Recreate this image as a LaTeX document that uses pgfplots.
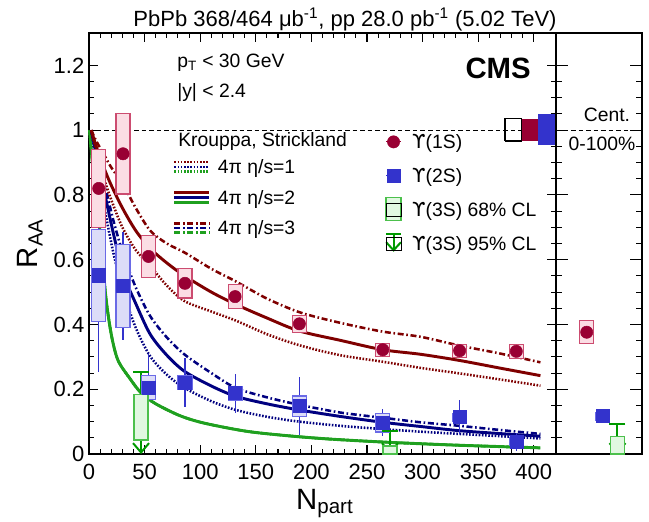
\documentclass[border=0pt]{standalone}
\usepackage{fontspec}
\setmainfont{Liberation Sans}
\newfontfamily\dejavu{DejaVu Sans}
\usepackage{pgfplots}
\pgfplotsset{compat=1.18}
\usepackage{pgfplotstable}
\usetikzlibrary{arrows.meta}

% model curves
\definecolor{thOne}{HTML}{7F0000}
\definecolor{thTwo}{HTML}{000080}
\definecolor{thThree}{HTML}{1FA01F}
% measurements
\definecolor{dOne}{HTML}{990033}
\definecolor{dOneEdge}{HTML}{CC4C70}
\definecolor{dOneFill}{HTML}{FBDDE4}
\definecolor{dTwo}{HTML}{3333CC}
\definecolor{dTwoEdge}{HTML}{6A6AE6}
\definecolor{dTwoFill}{HTML}{DCDCF8}
\definecolor{dThree}{HTML}{009900}
\definecolor{dThreeEdge}{HTML}{4CC04C}
\definecolor{dThreeFill}{HTML}{E2F8E2}

\newlength\px
\setlength\px{0.75pt}
\newcommand\Ups{{\dejavu ϒ}}
\newcommand\fsTick{\fontsize{16.5}{19}\selectfont}
\newcommand\fsLab{\fontsize{22}{26}\selectfont}
\newcommand\fsLeg{\fontsize{14.5}{17}\selectfont}

\tikzset{
  eta1/.style={line width=1.9pt, dash pattern=on 1.2pt off 1.2pt},
  eta2/.style={line width=2.2pt},
  eta3/.style={line width=1.9pt, dash pattern=on 4.5pt off 2pt on 1.2pt off 2pt},
}

% systematic-uncertainty box as a plot mark; \sysh is its half height in pt
\newcommand\boxhw{5.25pt}
\pgfdeclareplotmark{sysbox}{%
  \pgfpathrectangle{\pgfpoint{-\boxhw}{-\sysh pt}}{\pgfpoint{2*\boxhw}{2*\sysh pt}}%
  \pgfusepathqfillstroke}

% ---- data: Npart, value, stat, syst ----
\pgfplotstableread{
x     y     stat  sys
8.75  0.82  0.07  0.12
30.6  0.927 0.088 0.124
53.5  0.61  0.047 0.065
86.3  0.527 0.035 0.045
131.4 0.486 0.030 0.037
189.2 0.402 0.022 0.026
264.2 0.322 0.017 0.020
333.3 0.319 0.017 0.020
384.3 0.317 0.017 0.022
}\upsOne
\pgfplotstableread{
x     y     stat  sys
8.75  0.552 0.300 0.142
30.6  0.519 0.168 0.129
53.5  0.205 0.104 0.037
86.3  0.221 0.075 0.022
131.4 0.188 0.060 0.021
189.2 0.148 0.090 0.031
264.2 0.097 0.041 0.029
333.3 0.114 0.052 0.012
384.3 0.038 0.028 0.012
}\upsTwo
% Upsilon(3S): 68% CL band (centre, half width) and 95% CL upper limit
\pgfplotstableread{
x     yc     sys    lim    v
46.8  0.113  0.070  0.252  -0.252
270.7 0.0125 0.0125 0.072  -0.072
}\upsThree
% centrality-integrated
\pgfplotstableread{
x     y     stat  sys
0.357 0.376 0.008 0.035
}\intOne
\pgfplotstableread{
x     y     stat  sys
0.541 0.117 0.006 0.012
}\intTwo
\pgfplotstableread{
x     yc     sys    lim    v
0.715 0.0265 0.0265 0.094  -0.094
}\intThree

% ---- Krouppa, Strickland ----
\pgfplotstableread{
x y
2 1.0
6 0.94
10 0.89
15 0.835
20 0.785
30 0.70
42 0.63
55 0.581
70 0.52
86 0.472
110 0.44
132 0.412
160 0.37
190 0.335
226 0.305
264 0.285
298 0.266
333 0.249
370 0.23
406 0.211
}\thOneA
\pgfplotstableread{
x y
2 1.0
6 0.955
10 0.915
15 0.87
20 0.83
30 0.76
42 0.69
55 0.635
70 0.59
86 0.55
110 0.50
132 0.462
160 0.42
189 0.38
226 0.351
264 0.322
298 0.308
333 0.289
370 0.265
406 0.242
}\thOneB
\pgfplotstableread{
x y
2 1.0
6 0.97
10 0.945
15 0.915
20 0.885
31 0.83
42 0.76
55 0.69
70 0.65
86 0.622
110 0.572
132 0.533
160 0.48
190 0.437
226 0.405
264 0.378
298 0.362
333 0.335
370 0.31
406 0.283
}\thOneC
\pgfplotstableread{
x y
2 1.0
8 0.87
15 0.74
22 0.62
31 0.50
42 0.39
55 0.302
70 0.245
86 0.204
110 0.163
132 0.136
160 0.115
189 0.10
226 0.087
264 0.077
298 0.069
333 0.062
370 0.055
406 0.048
}\thTwoA
\pgfplotstableread{
x y
2 1.0
8 0.90
15 0.79
22 0.68
31 0.555
42 0.465
55 0.37
70 0.305
86 0.255
110 0.21
132 0.178
160 0.155
189 0.136
226 0.116
264 0.098
298 0.085
333 0.072
370 0.063
406 0.055
}\thTwoB
\pgfplotstableread{
x y
2 1.0
8 0.92
15 0.82
22 0.72
31 0.615
42 0.515
55 0.426
70 0.36
86 0.307
110 0.25
132 0.204
160 0.175
189 0.152
226 0.128
264 0.112
298 0.098
333 0.087
370 0.074
406 0.062
}\thTwoC
\pgfplotstableread{
x y
0.5 1.0
3 0.90
6 0.78
10 0.685
15 0.49
20 0.37
26 0.29
37 0.232
47 0.188
60 0.155
82 0.118
104 0.095
142 0.07
180 0.056
217 0.046
270 0.036
333 0.027
406 0.019
}\thThreeAll

\begin{document}
\begin{tikzpicture}
\path[use as bounding box] (0,0) rectangle (649\px,521\px);

\begin{axis}[
  at={(89\px,67\px)}, anchor=south west,
  scale only axis, width=467\px, height=421\px,
  xmin=0, xmax=420, ymin=0, ymax=1.3,
  xtick={0,50,100,150,200,250,300,350,400}, minor x tick num=4,
  ytick={0,0.2,0.4,0.6,0.8,1,1.2}, minor y tick num=3,
  major tick length=7pt, minor tick length=3.75pt,
  axis line style={line width=0.9pt},
  every tick/.append style={black, line width=0.8pt},
  /pgf/number format/assume math mode=true,
  tick label style={font=\fsTick},
  xticklabel style={yshift=-4pt},
  xlabel={N\textsubscript{part}},
  ylabel={R\textsubscript{AA}},
  xlabel style={font=\fsLab, at={(axis description cs:0.505,-0.131)}, anchor=base},
  ylabel style={font=\fsLab, at={(axis description cs:-0.126,0.50)}, anchor=center},
  clip=false,
  legend cell align=left,
  legend style={
    at={(axis description cs:0.1799,0.6986)}, anchor=north west,
    draw=none, fill=none, inner sep=0pt, outer sep=0pt,
    font=\fsLeg, row sep=9.4pt, column sep=5.25pt,
    nodes={inner sep=0pt, text height=10.5pt, text depth=3pt},
  },
]
% reference line at unity
\addplot[forget plot, black, line width=0.75pt, dash pattern=on 3.4pt off 2.25pt] coordinates {(0,1) (420,1)};
% global uncertainties
\addplot[forget plot, draw=black, line width=1pt] coordinates {(374,0.967) (389,0.967) (389,1.036) (374,1.036) (374,0.967)};
\addplot[forget plot, fill=dOne, draw=none] coordinates {(389,0.965) (405,0.965) (405,1.035) (389,1.035)};
\addplot[forget plot, fill=dTwo, draw=none] coordinates {(404,0.953) (420,0.953) (420,1.051) (404,1.051)};

% systematic boxes
\addplot[forget plot, only marks, mark=sysbox, mark options={draw=dOneEdge, fill=dOneFill, line width=0.9pt},
  visualization depends on={\thisrow{sys}*242.885 \as \sysh}] table[x=x,y=y] {\upsOne};
\addplot[forget plot, only marks, mark=sysbox, mark options={draw=dTwoEdge, fill=dTwoFill, line width=0.9pt},
  visualization depends on={\thisrow{sys}*242.885 \as \sysh}] table[x=x,y=y] {\upsTwo};
\addplot[forget plot, only marks, mark=sysbox, mark options={draw=dThreeEdge, fill=dThreeFill, line width=0.9pt},
  visualization depends on={\thisrow{sys}*242.885 \as \sysh}] table[x=x,y=yc] {\upsThree};

% model curves
\addplot[forget plot, thThree, eta1, smooth] table {\thThreeAll};
\addplot[forget plot, thThree, eta3, smooth] table {\thThreeAll};
\addplot[forget plot, thThree, eta2, smooth] table {\thThreeAll};
\addplot[forget plot, thTwo, eta1, smooth] table {\thTwoA};
\addplot[forget plot, thTwo, eta3, smooth] table {\thTwoC};
\addplot[forget plot, thTwo, eta2, smooth] table {\thTwoB};
\addplot[forget plot, thOne, eta1, smooth] table {\thOneA};
\addplot[forget plot, thOne, eta3, smooth] table {\thOneC};
\addplot[forget plot, thOne, eta2, smooth] table {\thOneB};

% measurements
\addplot[forget plot, only marks, mark=square*, mark size=4.9pt, color=dTwo,
  error bars/.cd, y dir=both, y explicit, error mark=none,
  error bar style={line width=0.9pt, dTwo}] table[x=x,y=y,y error=stat] {\upsTwo};
\addplot[forget plot, only marks, mark=*, mark size=4.6pt, color=dOne,
  error bars/.cd, y dir=both, y explicit, error mark=none,
  error bar style={line width=0.9pt, dOne}] table[x=x,y=y,y error=stat] {\upsOne};
\addplot[forget plot, dThree, line width=1.5pt, quiver={u=0, v=\thisrow{v}},
  -{Straight Barb[length=7pt, width=12pt]}] table[x=x,y=lim] {\upsThree};
\addplot[forget plot, only marks, mark=-, mark size=6pt, mark options={dThree, line width=1.5pt}] table[x=x,y=lim] {\upsThree};

% legend of the model curves
\addlegendimage{legend image code/.code={
  \draw[thOne, eta1] (0pt,5pt) -- (26.25pt,5pt);
  \draw[thTwo, eta1] (0pt,1.5pt) -- (26.25pt,1.5pt);
  \draw[thThree, eta1] (0pt,-2pt) -- (26.25pt,-2pt);}}
\addlegendentry{4π η/s=1}
\addlegendimage{legend image code/.code={
  \draw[thOne, eta2] (0pt,5pt) -- (26.25pt,5pt);
  \draw[thTwo, eta2] (0pt,1.5pt) -- (26.25pt,1.5pt);
  \draw[thThree, eta2] (0pt,-2pt) -- (26.25pt,-2pt);}}
\addlegendentry{4π η/s=2}
\addlegendimage{legend image code/.code={
  \draw[thOne, eta3] (0pt,5pt) -- (26.25pt,5pt);
  \draw[thTwo, eta3] (0pt,1.5pt) -- (26.25pt,1.5pt);
  \draw[thThree, eta3] (0pt,-2pt) -- (26.25pt,-2pt);}}
\addlegendentry{4π η/s=3}
\end{axis}

% centrality-integrated panel
\begin{axis}[
  at={(556\px,67\px)}, anchor=south west,
  scale only axis, width=86\px, height=421\px,
  xmin=0, xmax=1, ymin=0, ymax=1.3,
  xtick=\empty,
  ytick={0,0.2,0.4,0.6,0.8,1,1.2}, yticklabels={}, minor y tick num=3,
  major tick length=9pt, minor tick length=4.5pt,
  axis line style={line width=0.9pt},
  every tick/.append style={black, line width=0.8pt},
  clip=false,
  legend cell align=left,
  legend style={
    at={(axis description cs:-1.983,0.758)}, anchor=north west,
    draw=none, fill=none, inner sep=0pt, outer sep=0pt,
    font=\fsLeg, row sep=11.8pt, column sep=7.9pt,
    nodes={inner sep=0pt, text height=10.5pt, text depth=3pt},
  },
]
\addplot[forget plot, black, line width=0.75pt, dash pattern=on 3.4pt off 2.25pt] coordinates {(0,1) (1,1)};
\addplot[forget plot, only marks, mark=sysbox, mark options={draw=dOneEdge, fill=dOneFill, line width=0.9pt},
  visualization depends on={\thisrow{sys}*242.885 \as \sysh}] table[x=x,y=y] {\intOne};
\addplot[forget plot, only marks, mark=sysbox, mark options={draw=dTwoEdge, fill=dTwoFill, line width=0.9pt},
  visualization depends on={\thisrow{sys}*242.885 \as \sysh}] table[x=x,y=y] {\intTwo};
\addplot[forget plot, only marks, mark=sysbox, mark options={draw=dThreeEdge, fill=dThreeFill, line width=0.9pt},
  visualization depends on={\thisrow{sys}*242.885 \as \sysh}] table[x=x,y=yc] {\intThree};
\addplot[forget plot, only marks, mark=*, mark size=4.6pt, color=dOne,
  error bars/.cd, y dir=both, y explicit, error mark=none,
  error bar style={line width=0.9pt, dOne}] table[x=x,y=y,y error=stat] {\intOne};
\addplot[forget plot, only marks, mark=square*, mark size=4.9pt, color=dTwo,
  error bars/.cd, y dir=both, y explicit, error mark=none,
  error bar style={line width=0.9pt, dTwo}] table[x=x,y=y,y error=stat] {\intTwo};
\addplot[forget plot, dThree, line width=1.5pt, quiver={u=0, v=\thisrow{v}},
  -{Straight Barb[length=7pt, width=12pt]}] table[x=x,y=lim] {\intThree};
\addplot[forget plot, only marks, mark=-, mark size=6pt, mark options={dThree, line width=1.5pt}] table[x=x,y=lim] {\intThree};

% legend of the measurements
\addlegendimage{legend image code/.code={
  \draw[dOne, line width=0.9pt] (0pt,1.5pt) -- (11.25pt,1.5pt);
  \fill[dOne] (5.625pt,1.5pt) circle (4.6pt);}}
\addlegendentry{\Ups(1S)}
\addlegendimage{legend image code/.code={
  \draw[dTwo, line width=0.9pt] (0pt,1.5pt) -- (11.25pt,1.5pt);
  \fill[dTwo] (0.9pt,-3.4pt) rectangle (10.35pt,6.4pt);}}
\addlegendentry{\Ups(2S)}
\addlegendimage{legend image code/.code={
  \draw[overlay, draw=dThreeEdge, fill=dThreeFill, line width=0.9pt] (0pt,-7.1pt) rectangle (11.25pt,10.1pt);
  \path (0pt,-4pt) rectangle (11.25pt,6pt);}}
\addlegendentry{\Ups(3S) 68\% CL}
\addlegendimage{legend image code/.code={
  \draw[overlay, dThree, line width=1.5pt] (0pt,8pt) -- (11.25pt,8pt);
  \draw[overlay, dThree, line width=1.5pt, -{Straight Barb[length=6pt, width=11pt]}] (5.625pt,8pt) -- (5.625pt,-5pt);
  \path (0pt,-4pt) rectangle (11.25pt,6pt);}}
\addlegendentry{\Ups(3S) 95\% CL}
\end{axis}

% text
\node[anchor=base, inner sep=0pt, font=\fsTick] at (345\px,494\px)
  {PbPb 368/464 μb\textsuperscript{-1}, pp 28.0 pb\textsuperscript{-1} (5.02 TeV)};
\node[anchor=base east, inner sep=0pt, font=\fontsize{22}{26}\selectfont\bfseries] at (531\px,442\px) {CMS};
\node[anchor=base west, inner sep=0pt, font=\fsLeg] at (177\px,453\px) {p\textsubscript{T} < 30 GeV};
\node[anchor=base west, inner sep=0pt, font=\fsLeg] at (177\px,423\px) {|y| < 2.4};
\node[anchor=base west, inner sep=0pt, font=\fsLeg] at (178\px,374\px) {Krouppa, Strickland};
\node[anchor=center, inner sep=0pt, font=\fsLeg] at (607\px,406\px) {Cent.};
\node[anchor=center, inner sep=0pt, font=\fsLeg] at (602\px,377\px) {0-100\%};
\end{tikzpicture}
\end{document}
